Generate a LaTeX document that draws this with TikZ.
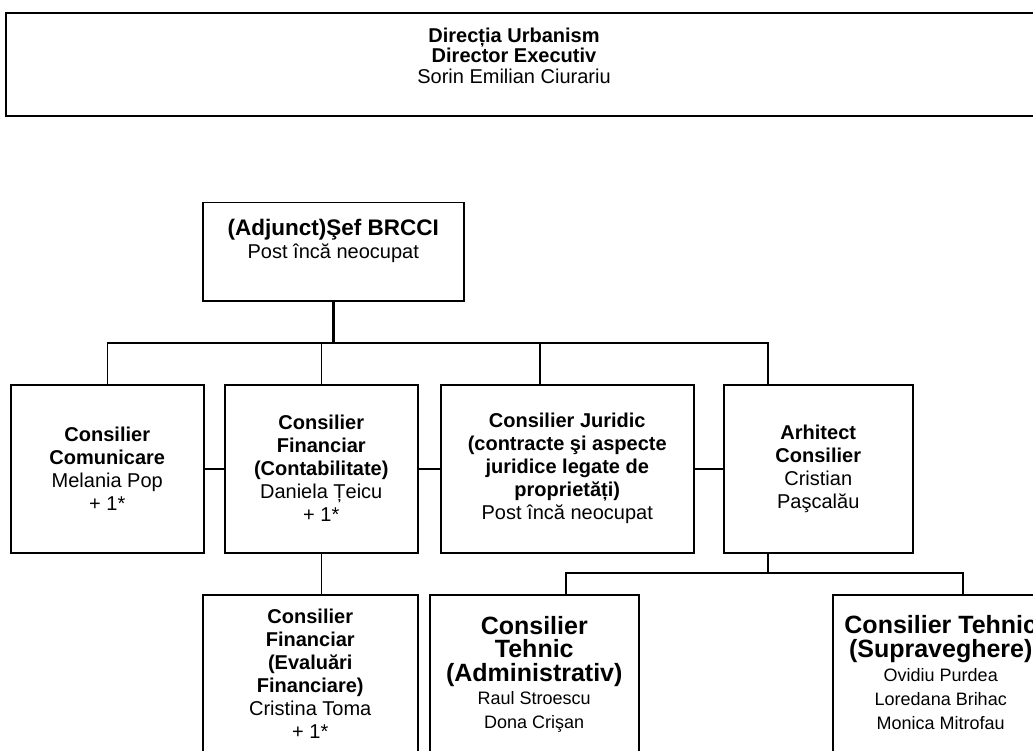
\documentclass[tikz,border=0pt]{standalone}
\usepackage{fontspec}
\setmainfont{Liberation Sans}
\usetikzlibrary{positioning}

\begin{document}
\begin{tikzpicture}[x=1pt, y=-1pt,
  unit/.style={draw, line width=1.5pt, inner sep=0pt, align=center,
    font=\fontsize{20}{23}\selectfont},
  caption/.style={inner sep=0pt, align=center, font=\fontsize{20}{23}\selectfont},
  link/.style={line width=1.5pt},
  trunk/.style={line width=2.6pt}]

  \useasboundingbox (0,0) rectangle (1033,751);
  \clip (0,0) rectangle (1033,751);

  % Define nodes
  \node[unit, line width=2pt, anchor=north west, minimum width=1050pt, minimum height=103pt] (dir) at (5,12) {};
  \node[caption, anchor=north, font=\fontsize{20}{20.5}\selectfont] (dirT) at (514,27.5)
    {\textbf{Direcția Urbanism}\\ \textbf{Director Executiv}\\ Sorin Emilian Ciurariu};

  \node[unit, anchor=north west, minimum width=261pt, minimum height=98pt] (sef) at (202,202) {};
  \node[caption, below=17pt of sef.north] (sefT)
    {{\fontsize{22.5}{23}\selectfont\bfseries (Adjunct)Şef BRCCI}\\ Post încă neocupat};

  \node[unit, anchor=north west, minimum width=193pt, minimum height=168pt] (com) at (10,384)
    {\textbf{Consilier}\\ \textbf{Comunicare}\\ Melania Pop\\ + 1*};
  \node[unit, anchor=north west, minimum width=193pt, minimum height=168pt] (fin) at (224,384)
    {\textbf{Consilier}\\ \textbf{Financiar}\\ \textbf{(Contabilitate)}\\ Daniela Țeicu\\ + 1*};
  \node[unit, anchor=north west, minimum width=253pt, minimum height=168pt] (jur) at (440,384)
    {\textbf{Consilier Juridic}\\ \textbf{(contracte şi aspecte}\\ \textbf{juridice legate de}\\ \textbf{proprietăți)}\\ Post încă neocupat};
  \node[unit, anchor=north west, minimum width=189pt, minimum height=168pt] (arh) at (723,384)
    {\textbf{Arhitect}\\ \textbf{Consilier}\\ Cristian\\ Paşcalău};

  \node[unit, anchor=north west, minimum width=215pt, minimum height=200pt] (eval) at (202,594) {};
  \node[caption, below=14.5pt of eval.north] (evalT)
    {\textbf{Consilier}\\ \textbf{Financiar}\\ \textbf{(Evaluări}\\ \textbf{Financiare)}\\ Cristina Toma\\ + 1*};
  \node[unit, anchor=north west, minimum width=209pt, minimum height=200pt] (adm) at (429,594) {};
  \node[caption, below=22pt of adm.north, font=\fontsize{18}{23.5}\selectfont] (admT)
    {{\fontsize{25}{23.5}\selectfont\bfseries Consilier}\\ {\fontsize{25}{23.5}\selectfont\bfseries Tehnic}\\
     {\fontsize{25}{23.5}\selectfont\bfseries (Administrativ)}\\ Raul Stroescu\\ Dona Crişan};
  \node[unit, anchor=north west, minimum width=216pt, minimum height=200pt] (sup) at (832,594) {};
  \node[caption, below=21pt of sup.north, font=\fontsize{18}{24}\selectfont] (supT)
    {{\fontsize{25}{24}\selectfont\bfseries Consilier Tehnic}\\ {\fontsize{25}{24}\selectfont\bfseries (Supraveghere)}\\
     Ovidiu Purdea\\ Loredana Brihac\\ Monica Mitrofau};

  \coordinate (bus) at (0,343);
  \coordinate (bus2) at (0,573);
  \coordinate (jurUp) at ([xshift=100pt]jur.north west);
  \coordinate (arhUp) at ([xshift=45pt]arh.north west);
  \coordinate (arhDown) at ([xshift=45pt]arh.south west);
  \coordinate (admUp) at ([xshift=137pt]adm.north west);
  \coordinate (supUp) at ([xshift=131pt]sup.north west);

  % Connect the nodes
  \draw[trunk] (sef.south) -- (sef.south |- bus);
  \draw[link] (com.north) -- (com.north |- bus) -- (arhUp |- bus) -- (arhUp);
  \draw[link] (fin.north) -- (fin.north |- bus);
  \draw[link] (jurUp) -- (jurUp |- bus);
  \draw[link] (com) -- (fin);
  \draw[link] (fin) -- (jur);
  \draw[link] (jur) -- (arh);
  \draw[link] (fin.south) -- (fin.south |- eval.north);
  \draw[trunk] (arhDown) -- (arhDown |- bus2);
  \draw[link] (admUp) -- (admUp |- bus2) -- (supUp |- bus2) -- (supUp);

\end{tikzpicture}
\end{document}
